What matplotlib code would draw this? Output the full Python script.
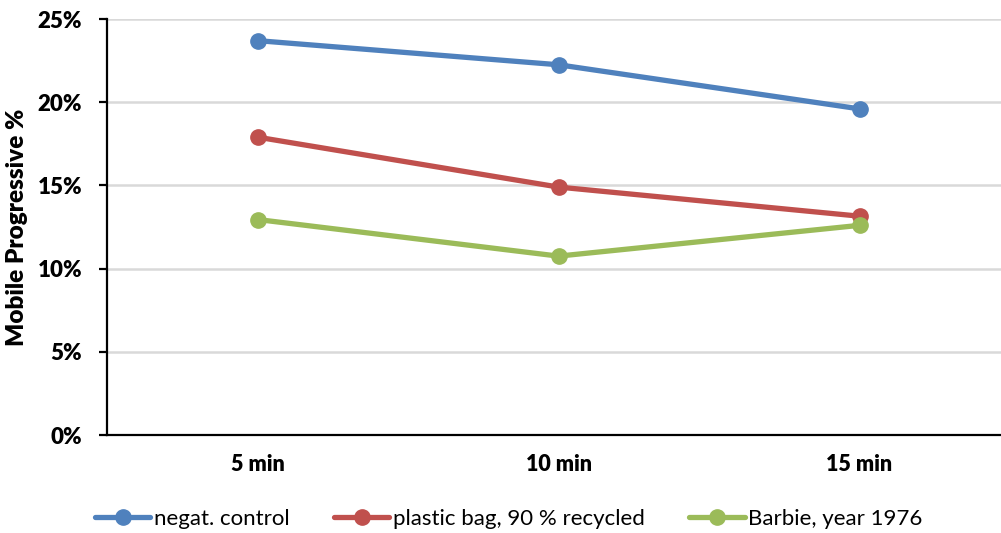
import matplotlib
matplotlib.use("Agg")
import matplotlib.pyplot as plt
from matplotlib.ticker import PercentFormatter

# Sampling times and measured fractions of mobile progressive cells (%)
times = ["5 min", "10 min", "15 min"]
negative_control = [23.7, 22.25, 19.6]
plastic_bag = [17.9, 14.9, 13.15]
barbie_1976 = [12.95, 10.75, 12.6]

series_names = ["negat. control", "plastic bag, 90 % recycled", "Barbie, year 1976"]
series_colors = ["#4F81BD", "#C0504D", "#9BBB59"]
y_ticks = [0, 5, 10, 15, 20, 25]

plt.rcParams["font.family"] = ["Lato", "DejaVu Sans"]

fig = plt.figure(figsize=(10.01, 5.33), dpi=100)
ax = fig.add_axes([107 / 1001, 1 - 435 / 533, (1010 - 107) / 1001, (435 - 19) / 533])

x = range(len(times))
for name, values, color in zip(series_names, [negative_control, plastic_bag, barbie_1976], series_colors):
    ax.plot(x, values, color=color, lw=3.8, marker="o", ms=11, label=name,
            solid_capstyle="round", zorder=3)

ax.set_xlim(-0.5, 2.5)
ax.set_ylim(0, 25)
ax.set_yticks(y_ticks)
ax.yaxis.set_major_formatter(PercentFormatter(decimals=0))
ax.set_xticks(list(x))
ax.set_xticklabels(times)

ax.grid(axis="y", color="#D9D9D9", lw=1.8, zorder=0)
ax.set_axisbelow(True)
for side in ["top", "right"]:
    ax.spines[side].set_visible(False)
for side in ["left", "bottom"]:
    ax.spines[side].set_linewidth(1.6)
    ax.spines[side].set_color("black")

ax.tick_params(axis="y", direction="out", length=6, width=1.6, pad=12)
ax.tick_params(axis="x", length=0, pad=14)
for lbl in ax.get_yticklabels():
    lbl.set_fontsize(16)
    lbl.set_fontweight("heavy")
for lbl in ax.get_xticklabels():
    lbl.set_fontsize(15.5)
    lbl.set_fontweight("heavy")

ax.set_ylabel("Mobile Progressive %", fontsize=17.5, fontweight="heavy")
ax.yaxis.set_label_coords(-0.087, 0.5)

leg = fig.legend(loc="center", bbox_to_anchor=(0.508, 1 - 519 / 533), ncol=3, frameon=False,
                 fontsize=16, handlelength=2.5, handletextpad=0.15, columnspacing=2.0)

fig.savefig("out.png", dpi=100)
